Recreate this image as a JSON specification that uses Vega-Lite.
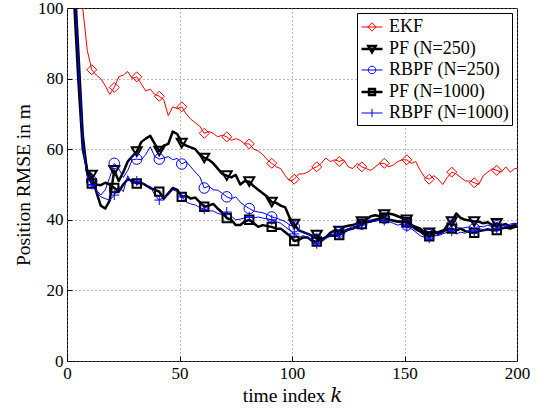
{
  "$schema": "https://vega.github.io/schema/vega-lite/v6.json",
  "width": 450,
  "height": 353,
  "autosize": "none",
  "padding": {"left": 67, "top": 8, "right": 23, "bottom": 50},
  "config": {
    "font": "Liberation Serif, Times New Roman, serif",
    "view": {"stroke": "black", "strokeWidth": 1},
    "axis": {
      "domain": false,
      "grid": true,
      "gridDash": [1, 3],
      "gridColor": "#777777",
      "tickColor": "black",
      "tickSize": -5,
      "labelPadding": 9,
      "labelFont": "Liberation Serif, Times New Roman, serif",
      "labelFontSize": 17,
      "labelColor": "black",
      "titleFont": "Liberation Serif, DejaVu Serif, serif",
      "titleFontSize": 19.5,
      "titleFontWeight": "normal",
      "titleColor": "black"
    },
    "axisX": {"labelAngle": 0, "labelFlush": false, "titlePadding": 5},
    "axisY": {"titlePadding": 4},
    "point": {"filled": false, "clip": true, "opacity": 1}
  },
  "data": {
    "values": [
      {"k": 0, "EKF": 150, "PF250": 140, "RBPF250": 142, "PF1000": 145, "RBPF1000": 143},
      {"k": 1, "EKF": 140, "PF250": 128, "RBPF250": 132, "PF1000": 135, "RBPF1000": 133},
      {"k": 3, "EKF": 125, "PF250": 104, "RBPF250": 108, "PF1000": 112, "RBPF1000": 110},
      {"k": 5, "EKF": 112, "PF250": 80, "RBPF250": 84, "PF1000": 88, "RBPF1000": 86},
      {"k": 7, "EKF": 100, "PF250": 60, "RBPF250": 61, "PF1000": 64, "RBPF1000": 62},
      {"k": 9, "EKF": 88, "PF250": 54, "RBPF250": 53, "PF1000": 53, "RBPF1000": 52},
      {"k": 11, "EKF": 82.5, "PF250": 52.7, "RBPF250": 51, "PF1000": 50.3, "RBPF1000": 50},
      {"k": 13, "EKF": 81, "PF250": 48, "RBPF250": 48.5, "PF1000": 50, "RBPF1000": 48},
      {"k": 15, "EKF": 80, "PF250": 44, "RBPF250": 47, "PF1000": 49.8, "RBPF1000": 46.5},
      {"k": 17, "EKF": 78, "PF250": 43.2, "RBPF250": 48.5, "PF1000": 50.5, "RBPF1000": 46},
      {"k": 19, "EKF": 75.5, "PF250": 45.5, "RBPF250": 52, "PF1000": 50, "RBPF1000": 45.5},
      {"k": 21, "EKF": 77.5, "PF250": 54, "RBPF250": 56, "PF1000": 49, "RBPF1000": 47},
      {"k": 23, "EKF": 80.5, "PF250": 51, "RBPF250": 54.5, "PF1000": 48, "RBPF1000": 49.5},
      {"k": 25, "EKF": 81, "PF250": 53.5, "RBPF250": 52, "PF1000": 50, "RBPF1000": 48},
      {"k": 27, "EKF": 82, "PF250": 56.5, "RBPF250": 54, "PF1000": 51.5, "RBPF1000": 52.5},
      {"k": 29, "EKF": 80, "PF250": 58, "RBPF250": 57, "PF1000": 51, "RBPF1000": 50},
      {"k": 31, "EKF": 80.5, "PF250": 59.3, "RBPF250": 57.2, "PF1000": 50.3, "RBPF1000": 51},
      {"k": 33, "EKF": 78.5, "PF250": 62, "RBPF250": 57, "PF1000": 50.5, "RBPF1000": 50.5},
      {"k": 35, "EKF": 76.5, "PF250": 63, "RBPF250": 58.5, "PF1000": 49.8, "RBPF1000": 49.5},
      {"k": 37, "EKF": 77, "PF250": 63.8, "RBPF250": 60.7, "PF1000": 49, "RBPF1000": 49.5},
      {"k": 39, "EKF": 75.5, "PF250": 61.5, "RBPF250": 57.9, "PF1000": 48.5, "RBPF1000": 47},
      {"k": 41, "EKF": 75, "PF250": 59.5, "RBPF250": 57.2, "PF1000": 48, "RBPF1000": 45.6},
      {"k": 43, "EKF": 74, "PF250": 61, "RBPF250": 57.5, "PF1000": 46, "RBPF1000": 46.5},
      {"k": 45, "EKF": 69.5, "PF250": 61.5, "RBPF250": 57.9, "PF1000": 47.5, "RBPF1000": 47},
      {"k": 47, "EKF": 72, "PF250": 65, "RBPF250": 57, "PF1000": 49, "RBPF1000": 48.5},
      {"k": 49, "EKF": 71.5, "PF250": 64.3, "RBPF250": 57.4, "PF1000": 48.5, "RBPF1000": 48},
      {"k": 51, "EKF": 72, "PF250": 61.7, "RBPF250": 55.8, "PF1000": 46.5, "RBPF1000": 46.5},
      {"k": 53, "EKF": 70, "PF250": 61, "RBPF250": 56.5, "PF1000": 46.8, "RBPF1000": 45},
      {"k": 55, "EKF": 68.5, "PF250": 60.5, "RBPF250": 55, "PF1000": 46, "RBPF1000": 44.5},
      {"k": 57, "EKF": 67.5, "PF250": 60, "RBPF250": 53.5, "PF1000": 46.3, "RBPF1000": 44.2},
      {"k": 59, "EKF": 66.5, "PF250": 58.5, "RBPF250": 52.2, "PF1000": 45, "RBPF1000": 43.5},
      {"k": 61, "EKF": 64.5, "PF250": 57.5, "RBPF250": 49, "PF1000": 43.7, "RBPF1000": 43},
      {"k": 63, "EKF": 65, "PF250": 57, "RBPF250": 49.5, "PF1000": 44, "RBPF1000": 42.5},
      {"k": 65, "EKF": 64.5, "PF250": 56, "RBPF250": 48.5, "PF1000": 44.5, "RBPF1000": 42.5},
      {"k": 67, "EKF": 63.5, "PF250": 54.5, "RBPF250": 48.4, "PF1000": 43.2, "RBPF1000": 41.8},
      {"k": 69, "EKF": 64, "PF250": 53, "RBPF250": 47.5, "PF1000": 42, "RBPF1000": 41.5},
      {"k": 71, "EKF": 63.5, "PF250": 52.5, "RBPF250": 46.5, "PF1000": 40.5, "RBPF1000": 42.2},
      {"k": 73, "EKF": 62.5, "PF250": 52, "RBPF250": 46, "PF1000": 40, "RBPF1000": 41},
      {"k": 75, "EKF": 63, "PF250": 52.7, "RBPF250": 46.5, "PF1000": 38.5, "RBPF1000": 40},
      {"k": 77, "EKF": 62.5, "PF250": 50, "RBPF250": 45, "PF1000": 38.5, "RBPF1000": 40.2},
      {"k": 79, "EKF": 61.5, "PF250": 51, "RBPF250": 44, "PF1000": 39.5, "RBPF1000": 40.5},
      {"k": 81, "EKF": 61.5, "PF250": 50.8, "RBPF250": 43.2, "PF1000": 40, "RBPF1000": 40.8},
      {"k": 83, "EKF": 60, "PF250": 49.5, "RBPF250": 42.5, "PF1000": 39, "RBPF1000": 40.5},
      {"k": 85, "EKF": 59.5, "PF250": 48.5, "RBPF250": 42.2, "PF1000": 38, "RBPF1000": 40.8},
      {"k": 87, "EKF": 58.5, "PF250": 47.5, "RBPF250": 42, "PF1000": 38.5, "RBPF1000": 40.5},
      {"k": 89, "EKF": 57, "PF250": 46.5, "RBPF250": 41.5, "PF1000": 38.2, "RBPF1000": 40.3},
      {"k": 91, "EKF": 56, "PF250": 45, "RBPF250": 40.8, "PF1000": 38, "RBPF1000": 40},
      {"k": 93, "EKF": 55, "PF250": 44.8, "RBPF250": 40.5, "PF1000": 37.5, "RBPF1000": 39.5},
      {"k": 95, "EKF": 54.5, "PF250": 44, "RBPF250": 40, "PF1000": 37.5, "RBPF1000": 39},
      {"k": 97, "EKF": 52.5, "PF250": 43.5, "RBPF250": 39.5, "PF1000": 36.5, "RBPF1000": 38},
      {"k": 99, "EKF": 51, "PF250": 40.5, "RBPF250": 38.5, "PF1000": 35.5, "RBPF1000": 37},
      {"k": 101, "EKF": 51.5, "PF250": 38.8, "RBPF250": 38, "PF1000": 34, "RBPF1000": 36},
      {"k": 103, "EKF": 53, "PF250": 37, "RBPF250": 37, "PF1000": 34.3, "RBPF1000": 35},
      {"k": 105, "EKF": 53, "PF250": 36.5, "RBPF250": 36.5, "PF1000": 35, "RBPF1000": 35.5},
      {"k": 107, "EKF": 53.5, "PF250": 36, "RBPF250": 36, "PF1000": 35, "RBPF1000": 35},
      {"k": 109, "EKF": 54.5, "PF250": 35.5, "RBPF250": 35, "PF1000": 34, "RBPF1000": 34},
      {"k": 111, "EKF": 55, "PF250": 35.7, "RBPF250": 34.5, "PF1000": 33.8, "RBPF1000": 33.2},
      {"k": 113, "EKF": 56, "PF250": 34, "RBPF250": 33.8, "PF1000": 34.5, "RBPF1000": 34},
      {"k": 115, "EKF": 57.5, "PF250": 35, "RBPF250": 35, "PF1000": 35, "RBPF1000": 34.8},
      {"k": 117, "EKF": 56.5, "PF250": 36.3, "RBPF250": 35.8, "PF1000": 35.5, "RBPF1000": 35.5},
      {"k": 119, "EKF": 57, "PF250": 37, "RBPF250": 36, "PF1000": 35.5, "RBPF1000": 35.3},
      {"k": 121, "EKF": 56.5, "PF250": 36.8, "RBPF250": 36.5, "PF1000": 35.7, "RBPF1000": 36},
      {"k": 123, "EKF": 57, "PF250": 38, "RBPF250": 37, "PF1000": 36.5, "RBPF1000": 36.8},
      {"k": 125, "EKF": 55, "PF250": 38.3, "RBPF250": 37.5, "PF1000": 37.2, "RBPF1000": 37},
      {"k": 127, "EKF": 54.5, "PF250": 38.5, "RBPF250": 38, "PF1000": 37.5, "RBPF1000": 37.5},
      {"k": 129, "EKF": 56, "PF250": 39, "RBPF250": 38.2, "PF1000": 38, "RBPF1000": 38},
      {"k": 131, "EKF": 55, "PF250": 39.5, "RBPF250": 38.8, "PF1000": 38.8, "RBPF1000": 38.5},
      {"k": 133, "EKF": 54.5, "PF250": 40, "RBPF250": 39.5, "PF1000": 39.3, "RBPF1000": 39.2},
      {"k": 135, "EKF": 54, "PF250": 41, "RBPF250": 40, "PF1000": 39.5, "RBPF1000": 39.8},
      {"k": 137, "EKF": 55, "PF250": 41.3, "RBPF250": 40.2, "PF1000": 40, "RBPF1000": 39.5},
      {"k": 139, "EKF": 56, "PF250": 41, "RBPF250": 40, "PF1000": 40.3, "RBPF1000": 40},
      {"k": 141, "EKF": 56, "PF250": 41.5, "RBPF250": 40.5, "PF1000": 40.5, "RBPF1000": 39.8},
      {"k": 143, "EKF": 55, "PF250": 41.8, "RBPF250": 40.2, "PF1000": 40, "RBPF1000": 39.5},
      {"k": 145, "EKF": 55.5, "PF250": 41.5, "RBPF250": 39.5, "PF1000": 39.8, "RBPF1000": 39},
      {"k": 147, "EKF": 56.5, "PF250": 41, "RBPF250": 39.3, "PF1000": 39.5, "RBPF1000": 38.5},
      {"k": 149, "EKF": 57, "PF250": 40.5, "RBPF250": 39, "PF1000": 39.5, "RBPF1000": 38.8},
      {"k": 151, "EKF": 57, "PF250": 40, "RBPF250": 38.5, "PF1000": 39.3, "RBPF1000": 38},
      {"k": 153, "EKF": 56, "PF250": 38.5, "RBPF250": 38, "PF1000": 38.5, "RBPF1000": 37.5},
      {"k": 155, "EKF": 56.5, "PF250": 38, "RBPF250": 37, "PF1000": 37.5, "RBPF1000": 36.5},
      {"k": 157, "EKF": 54, "PF250": 37.5, "RBPF250": 36.5, "PF1000": 36.7, "RBPF1000": 35.5},
      {"k": 159, "EKF": 52, "PF250": 36.5, "RBPF250": 35.5, "PF1000": 35.8, "RBPF1000": 35},
      {"k": 161, "EKF": 51.5, "PF250": 36.3, "RBPF250": 35.8, "PF1000": 35.3, "RBPF1000": 34.8},
      {"k": 163, "EKF": 52.5, "PF250": 37, "RBPF250": 36.2, "PF1000": 36, "RBPF1000": 35.5},
      {"k": 165, "EKF": 51.5, "PF250": 36, "RBPF250": 36, "PF1000": 36.5, "RBPF1000": 35.5},
      {"k": 167, "EKF": 50, "PF250": 36.5, "RBPF250": 36.5, "PF1000": 37, "RBPF1000": 36},
      {"k": 169, "EKF": 52, "PF250": 38.5, "RBPF250": 37, "PF1000": 37.2, "RBPF1000": 36.5},
      {"k": 171, "EKF": 53.5, "PF250": 39.5, "RBPF250": 38.5, "PF1000": 37.5, "RBPF1000": 36.8},
      {"k": 173, "EKF": 53, "PF250": 41.8, "RBPF250": 38, "PF1000": 37, "RBPF1000": 36},
      {"k": 175, "EKF": 52, "PF250": 40.5, "RBPF250": 37.5, "PF1000": 37.5, "RBPF1000": 36.5},
      {"k": 177, "EKF": 51, "PF250": 40, "RBPF250": 37.8, "PF1000": 36.8, "RBPF1000": 36.2},
      {"k": 179, "EKF": 51, "PF250": 39.8, "RBPF250": 38, "PF1000": 36.5, "RBPF1000": 37},
      {"k": 181, "EKF": 50.5, "PF250": 39.5, "RBPF250": 37.5, "PF1000": 36.3, "RBPF1000": 36.8},
      {"k": 183, "EKF": 50, "PF250": 39.5, "RBPF250": 38.2, "PF1000": 36.8, "RBPF1000": 37.5},
      {"k": 185, "EKF": 52.5, "PF250": 39, "RBPF250": 38, "PF1000": 37, "RBPF1000": 37.2},
      {"k": 187, "EKF": 53.5, "PF250": 39.3, "RBPF250": 38.5, "PF1000": 37.3, "RBPF1000": 37},
      {"k": 189, "EKF": 54.5, "PF250": 38.5, "RBPF250": 38, "PF1000": 37, "RBPF1000": 37.5},
      {"k": 191, "EKF": 54, "PF250": 39, "RBPF250": 38.3, "PF1000": 37.1, "RBPF1000": 37.6},
      {"k": 193, "EKF": 53.5, "PF250": 38.5, "RBPF250": 38.6, "PF1000": 37.5, "RBPF1000": 37.8},
      {"k": 195, "EKF": 55, "PF250": 38.8, "RBPF250": 38.2, "PF1000": 37.8, "RBPF1000": 38},
      {"k": 197, "EKF": 53.5, "PF250": 38, "RBPF250": 38.8, "PF1000": 37.5, "RBPF1000": 38.4},
      {"k": 199, "EKF": 54.5, "PF250": 38.5, "RBPF250": 39, "PF1000": 38, "RBPF1000": 39},
      {"k": 200, "EKF": 54.5, "PF250": 38, "RBPF250": 38.5, "PF1000": 38, "RBPF1000": 39}
    ]
  },
  "transform": [
    {"fold": ["EKF", "PF250", "RBPF250", "PF1000", "RBPF1000"], "as": ["series", "rmse"]}
  ],
  "encoding": {
    "x": {
      "field": "k",
      "type": "quantitative",
      "scale": {"domain": [0, 200], "nice": false},
      "axis": {"values": [0, 50, 100, 150, 200], "title": "time index 𝑘"}
    },
    "y": {
      "field": "rmse",
      "type": "quantitative",
      "scale": {"domain": [0, 100], "nice": false},
      "axis": {"values": [0, 20, 40, 60, 80, 100], "title": "Position RMSE in m"}
    },
    "color": {
      "field": "series",
      "type": "nominal",
      "scale": {
        "domain": ["EKF", "PF250", "RBPF250", "PF1000", "RBPF1000"],
        "range": ["#ff0000", "#000000", "#0000ff", "#000000", "#0000ff"]
      },
      "legend": {
        "title": null,
        "orient": "top-right",
        "offset": 5,
        "fillColor": "white",
        "strokeColor": "black",
        "padding": 3,
        "rowPadding": 1,
        "labelFont": "Liberation Serif, Times New Roman, serif",
        "labelFontSize": 18,
        "labelColor": "black",
        "labelOffset": 5,
        "symbolSize": 441,
        "labelExpr": "datum.value == 'EKF' ? 'EKF' : datum.value == 'PF250' ? 'PF (N=250)' : datum.value == 'RBPF250' ? 'RBPF (N=250)' : datum.value == 'PF1000' ? 'PF (N=1000)' : 'RBPF (N=1000)'",
        "encode": {
          "symbols": {
            "update": {
              "shape": {"signal": "datum.value == 'EKF' ? 'M-1,0H1M0,-0.4L0.4,0L0,0.4L-0.4,0Z' : datum.value == 'PF250' ? 'M-1,0H1M-0.35,-0.28H0.35L0,0.32Z' : datum.value == 'RBPF250' ? 'M-1,0H1M0.36,0A0.36,0.36 0 1,1 -0.36,0A0.36,0.36 0 1,1 0.36,0' : datum.value == 'PF1000' ? 'M-1,0H1M-0.28,-0.28H0.28V0.28H-0.28Z' : 'M-1,0H1M0,-0.4V0.4'"},
              "fill": {"value": "transparent"},
              "strokeWidth": {"signal": "datum.value == 'PF250' || datum.value == 'PF1000' ? 2.5 : 1"}
            }
          }
        }
      }
    }
  },
  "layer": [
    {
      "mark": {"type": "line", "clip": true, "strokeJoin": "round"},
      "encoding": {
        "strokeWidth": {
          "field": "series",
          "type": "nominal",
          "scale": {
            "type": "ordinal",
            "domain": ["EKF", "PF250", "RBPF250", "PF1000", "RBPF1000"],
            "range": [1, 2.5, 1, 2.5, 1]
          },
          "legend": null
        }
      }
    },
    {
      "transform": [{"filter": "datum.series == 'EKF' && datum.k % 10 == 1"}],
      "mark": {"type": "point", "shape": "diamond", "size": 100, "strokeWidth": 1}
    },
    {
      "transform": [{"filter": "datum.series == 'PF250' && datum.k % 10 == 1"}],
      "mark": {"type": "point", "shape": "triangle-down", "size": 100, "strokeWidth": 2}
    },
    {
      "transform": [{"filter": "datum.series == 'RBPF250' && datum.k % 10 == 1"}],
      "mark": {"type": "point", "shape": "circle", "size": 110, "strokeWidth": 1}
    },
    {
      "transform": [{"filter": "datum.series == 'PF1000' && datum.k % 10 == 1"}],
      "mark": {"type": "point", "shape": "square", "size": 70, "strokeWidth": 2}
    },
    {
      "transform": [{"filter": "datum.series == 'RBPF1000' && datum.k % 10 == 1"}],
      "mark": {"type": "point", "shape": "M-1,0H1M0,-1V1", "size": 100, "strokeWidth": 1}
    }
  ]
}
